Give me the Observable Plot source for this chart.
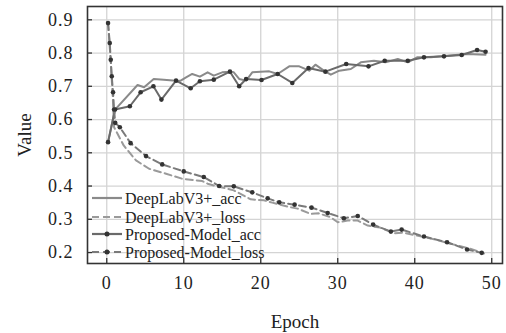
<!DOCTYPE html>
<html>
<head>
<meta charset="utf-8">
<script src="https://cdn.jsdelivr.net/npm/d3@7"></script>
<script src="https://cdn.jsdelivr.net/npm/@observablehq/plot@0.6"></script>
<style>
  body { margin: 0; background: #ffffff; }
  #holder { position: relative; width: 506px; height: 333px; font-family: "Liberation Serif", serif; }
  #holder > svg { position: absolute; left: 0; top: 0; }
  .axlab { position: absolute; font-size: 19px; color: #222; white-space: nowrap; font-family: "Liberation Serif", serif; }
</style>
</head>
<body>
<div id="holder"></div>
<script>
// Tick values
const xTickVals = [0, 10, 20, 30, 40, 50];
const yTickVals = [0.2, 0.3, 0.4, 0.5, 0.6, 0.7, 0.8, 0.9];

// DeepLabV3+ accuracy
const deeplabAccEpoch = [0.17, 1.08, 4.0, 4.85, 6.1, 7.4, 9.0, 9.6, 10.3, 11.1, 12.1, 13.1, 13.9, 15.0, 16.0, 16.5, 17.2, 18.1, 18.9, 21.1, 22.2, 23.7, 25.0, 26.3, 27.1, 28.2, 29.1, 30.2, 31.7, 33.0, 34.7, 36.2, 37.8, 39.1, 40.3, 42.1, 44.2, 46.8, 49.2];
const deeplabAccVal = [0.532, 0.63, 0.704, 0.697, 0.722, 0.72, 0.717, 0.717, 0.727, 0.737, 0.729, 0.742, 0.732, 0.742, 0.744, 0.742, 0.722, 0.717, 0.742, 0.745, 0.737, 0.76, 0.76, 0.747, 0.765, 0.747, 0.735, 0.747, 0.752, 0.772, 0.777, 0.772, 0.782, 0.772, 0.787, 0.787, 0.792, 0.797, 0.795];

// DeepLabV3+ loss
const deeplabLossEpoch = [0.17, 0.5, 0.8, 0.95, 2.2, 3.8, 5.5, 7.7, 9.8, 12.4, 13.1, 14.2, 16.5, 18.7, 20.4, 21.5, 23.9, 24.8, 26.5, 27.5, 29.1, 30.0, 31.3, 32.6, 33.9, 35.5, 37.3, 38.5, 40.3, 42.5, 44.7, 47.3, 49.0];
const deeplabLossVal = [0.89, 0.78, 0.66, 0.577, 0.522, 0.477, 0.452, 0.437, 0.422, 0.415, 0.407, 0.40, 0.387, 0.36, 0.357, 0.35, 0.336, 0.332, 0.316, 0.318, 0.306, 0.291, 0.296, 0.296, 0.281, 0.275, 0.258, 0.26, 0.251, 0.24, 0.226, 0.211, 0.197];

// Proposed-Model accuracy
const proposedAccEpoch = [0.17, 1.08, 3.0, 4.4, 6.06, 7.1, 9.0, 10.9, 12.1, 13.9, 16.0, 17.2, 18.1, 20.1, 22.2, 24.1, 26.2, 28.4, 31.1, 34.0, 36.1, 39.1, 41.2, 43.8, 46.1, 48.1, 49.2];
const proposedAccVal = [0.532, 0.63, 0.64, 0.682, 0.70, 0.66, 0.717, 0.694, 0.715, 0.72, 0.744, 0.70, 0.722, 0.719, 0.737, 0.71, 0.755, 0.744, 0.767, 0.76, 0.777, 0.777, 0.787, 0.79, 0.794, 0.809, 0.804];

// Proposed-Model loss
const proposedLossEpoch = [0.17, 0.39, 0.52, 0.65, 0.82, 0.95, 1.1, 1.7, 3.1, 5.1, 7.2, 10.0, 12.6, 14.6, 16.5, 18.9, 20.9, 22.4, 24.4, 26.6, 28.7, 30.8, 32.6, 34.6, 36.9, 38.3, 41.2, 44.2, 46.8, 48.7];
const proposedLossVal = [0.89, 0.83, 0.78, 0.73, 0.682, 0.63, 0.59, 0.577, 0.529, 0.49, 0.465, 0.444, 0.427, 0.40, 0.399, 0.381, 0.363, 0.351, 0.344, 0.335, 0.319, 0.303, 0.310, 0.284, 0.263, 0.269, 0.248, 0.231, 0.209, 0.199];

const seriesLabels = ["DeepLabV3+_acc", "DeepLabV3+_loss", "Proposed-Model_acc", "Proposed-Model_loss"];

const mk = (ex, vy) => ex.map((e, i) => ({epoch: e, value: vy[i]}));
const tables = {
  "DeepLabV3+_acc": mk(deeplabAccEpoch, deeplabAccVal),
  "DeepLabV3+_loss": mk(deeplabLossEpoch, deeplabLossVal),
  "Proposed-Model_acc": mk(proposedAccEpoch, proposedAccVal),
  "Proposed-Model_loss": mk(proposedLossEpoch, proposedLossVal)
};
const sty = {
  "DeepLabV3+_acc": {stroke: "#8a8a8a", dash: null, dot: false},
  "DeepLabV3+_loss": {stroke: "#9a9a9a", dash: "7,4", dot: false},
  "Proposed-Model_acc": {stroke: "#6a6a6a", dash: null, dot: true},
  "Proposed-Model_loss": {stroke: "#7a7a7a", dash: "7,4", dot: true}
};
const SERIF = "Liberation Serif";

const lineMarks = seriesLabels.flatMap(n => {
  const arr = [Plot.line(tables[n], {x: "epoch", y: "value", stroke: sty[n].stroke, strokeWidth: 2, strokeDasharray: sty[n].dash})];
  if (sty[n].dot) arr.push(Plot.dot(tables[n], {x: "epoch", y: "value", r: 2.3, fill: "#333"}));
  return arr;
});

const plotSvg = Plot.plot({
  width: 506,
  height: 333,
  marginLeft: 87,
  marginRight: 4,
  marginTop: 6,
  marginBottom: 70,
  x: {domain: [-2.5, 51.4], axis: null},
  y: {domain: [0.167, 0.94], axis: null},
  marks: [
    Plot.gridX(xTickVals, {stroke: "#d4d4d4", strokeOpacity: 1, strokeWidth: 1.3}),
    Plot.gridY(yTickVals, {stroke: "#d4d4d4", strokeOpacity: 1, strokeWidth: 1.3}),
    // tick labels drawn as text marks positioned by the scales
    Plot.text(xTickVals, {x: d => d, frameAnchor: "bottom", dy: 25, text: d => String(d),
      fontFamily: SERIF, fontSize: 18, fill: "#222", textAnchor: "middle"}),
    Plot.text(yTickVals, {y: d => d, frameAnchor: "left", dx: -14, text: d => d.toFixed(1),
      fontFamily: SERIF, fontSize: 18, fill: "#222", textAnchor: "end"}),
    // inward tick marks
    Plot.tickX(xTickVals, {x: d => d, insetTop: 252, stroke: "#333", strokeWidth: 1.3}),
    Plot.tickY(yTickVals, {y: d => d, insetRight: 410, stroke: "#333", strokeWidth: 1.3}),
    ...lineMarks,
    Plot.frame({stroke: "#333", strokeWidth: 1.6})
  ]
});

const holder = document.getElementById("holder");
holder.appendChild(plotSvg);
d3.select(plotSvg).selectAll("text").style("letter-spacing", "1px");

// axis titles
const xLab = document.createElement("div");
xLab.className = "axlab";
xLab.textContent = "Epoch";
xLab.style.left = "295px"; xLab.style.top = "322px";
xLab.style.transform = "translate(-50%, -50%)";
holder.appendChild(xLab);

const yLab = document.createElement("div");
yLab.className = "axlab";
yLab.textContent = "Value";
yLab.style.left = "25px"; yLab.style.top = "135px";
yLab.style.transform = "translate(-50%, -50%) rotate(-90deg)";
holder.appendChild(yLab);

// legend (inside plot, lower left)
const legendSvg = d3.select(holder).append("svg")
  .style("position", "absolute").style("left", "88px").style("top", "188px")
  .attr("width", 190).attr("height", 76);
seriesLabels.forEach((name, i) => {
  const s = sty[name];
  const g = legendSvg.append("g").attr("transform", `translate(0,${10 + [0, 19, 36, 54][i]})`);
  g.append("line").attr("x1", 4).attr("x2", 34).attr("y1", 0).attr("y2", 0)
    .attr("stroke", s.stroke).attr("stroke-width", 2.2)
    .attr("stroke-dasharray", s.dash);
  if (s.dot) g.append("circle").attr("cx", 19).attr("cy", 0).attr("r", 2.5).attr("fill", "#333");
  g.append("text").attr("x", 37).attr("y", 0).attr("dy", "0.35em")
    .attr("font-family", SERIF).attr("font-size", 16).attr("fill", "#222")
    .text(name);
});
</script>
</body>
</html>
